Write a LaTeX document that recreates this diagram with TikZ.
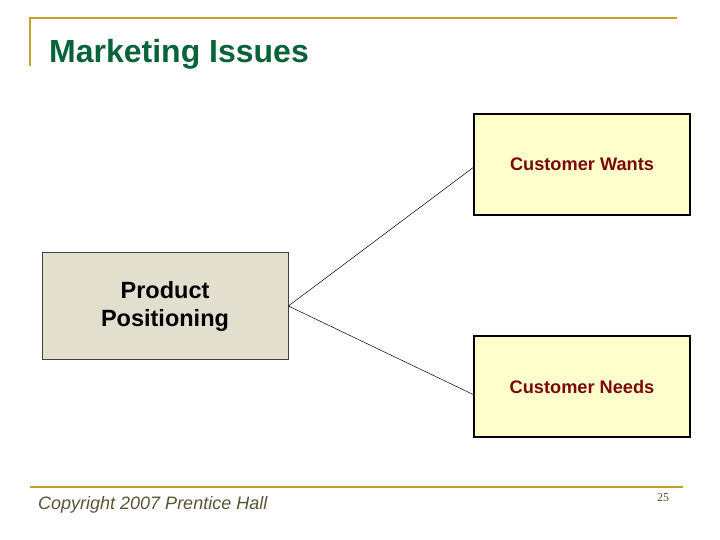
\documentclass[tikz,border=0pt]{standalone}
\usepackage{fontspec}
\setmainfont{Liberation Sans}
\newfontfamily\numfont{Liberation Serif}
\definecolor{rulegold}{RGB}{200,160,40}
\definecolor{titlegreen}{RGB}{8,100,56}
\definecolor{wantred}{RGB}{122,8,8}
\definecolor{beigebox}{RGB}{227,223,207}
\definecolor{paleyellow}{RGB}{255,255,204}
\definecolor{footolive}{RGB}{88,84,52}
\tikzset{
  posbox/.style={draw=black!75, line width=0.8pt, fill=beigebox, minimum width=246pt, minimum height=107pt, inner sep=0pt, align=center, font=\fontsize{23.5}{28}\selectfont\bfseries},
  custbox/.style={draw=black, line width=1.6pt, fill=paleyellow, minimum width=216pt, minimum height=101pt, inner sep=0pt, text=wantred, font=\fontsize{18.2}{21}\selectfont\bfseries},
  link/.style={draw=black, line width=0.5pt}
}
\begin{document}
\begin{tikzpicture}[x=1pt, y=-1pt]
  \useasboundingbox (0,0) rectangle (720,540);
  % slide frame
  \draw[rulegold, line width=2.6pt] (30,66) -- (30,18) -- (677,18);
  \draw[rulegold, line width=2.6pt] (30,487) -- (683,487);
  \node[anchor=west, text=titlegreen, font=\fontsize{32}{36}\selectfont\bfseries, inner sep=0pt] (title) at (49,54) {Marketing Issues};

  % boxes
  \node[posbox] (pos) at (165,306) {Product\\Positioning};
  \node[custbox] (wants) at (582,164.5) {Customer Wants};
  \node[custbox] (needs) at (582,386.5) {Customer Needs};

  \draw[link] (pos.east) -- ([yshift=-3pt]wants.west);
  \draw[link] (pos.east) -- ([yshift=-8pt]needs.west);

  % footer
  \node[anchor=west, text=footolive, font=\fontsize{18}{21}\selectfont\itshape, inner sep=0pt] (copy) at (38,505) {Copyright 2007 Prentice Hall};
  \node[text=footolive, font=\numfont\fontsize{12}{14}\selectfont, inner sep=0pt] (page) at (663,498) {25};
\end{tikzpicture}
\end{document}
